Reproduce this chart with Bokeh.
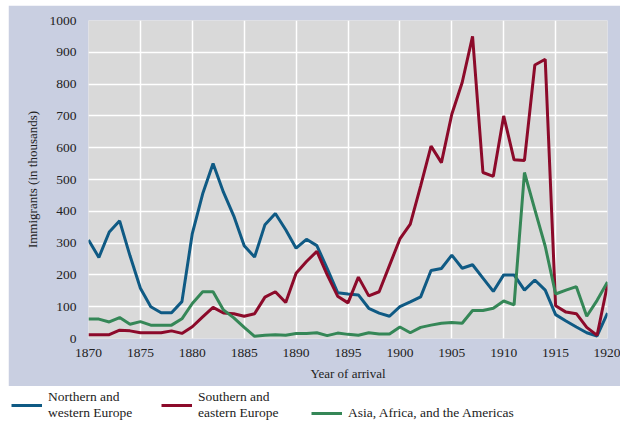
from bokeh.plotting import figure
from bokeh.models import FixedTicker, Legend, LegendItem
from bokeh.layouts import column
from bokeh.embed import file_html
from bokeh.resources import INLINE

years = list(range(1870, 1921))

nw_europe = [310, 255, 335, 370, 260, 158, 100, 81, 81, 116,
             330, 455, 550, 460, 385, 292, 256, 358, 393, 342,
             284, 312, 292, 220, 144, 140, 137, 95, 80, 70,
             100, 115, 131, 214, 220, 262, 221, 232, 190, 148,
             200, 200, 152, 184, 152, 75, 55, 36, 18, 8, 80]

se_europe = [12, 12, 12, 26, 24, 18, 18, 18, 24, 16,
             37, 68, 98, 80, 78, 70, 78, 130, 147, 113,
             205, 242, 274, 200, 133, 112, 193, 134, 147, 230,
             313, 360, 480, 605, 553, 705, 805, 950, 522, 510,
             700, 562, 560, 860, 878, 103, 83, 78, 35, 10, 170]

asia_africa_americas = [61, 61, 52, 66, 45, 53, 42, 42, 42, 62,
                        110, 147, 147, 90, 65, 35, 7, 10, 12, 10,
                        16, 16, 18, 9, 17, 13, 10, 18, 14, 14,
                        36, 18, 35, 42, 48, 50, 48, 88, 88, 95,
                        118, 106, 522, 405, 290, 140, 152, 163, 70, 120, 178]

series_labels = ["Northern and\nwestern Europe",
                 "Southern and\neastern Europe",
                 "Asia, Africa, and the Americas"]
series_colors = ["#0f5a84", "#8c0a2a", "#358757"]

x_ticks = list(range(1870, 1921, 5))
y_ticks = list(range(0, 1001, 100))

FONT = "Liberation Serif"
TXT = "#222222"

p = figure(width=612, height=381, x_range=(1870, 1920), y_range=(0, 1000),
           output_backend="svg", toolbar_location=None,
           min_border_left=80, min_border_right=13, min_border_top=15,
           min_border_bottom=48, margin=(5, 0, 0, 8), frame_align=False)
p.background_fill_color = "#d9d9d9"
p.border_fill_color = "#c9cfe1"
p.outline_line_color = None

p.xgrid.ticker = FixedTicker(ticks=x_ticks)
p.ygrid.ticker = FixedTicker(ticks=y_ticks)
p.grid.grid_line_color = "white"
p.grid.grid_line_width = 1.5

p.xaxis.ticker = FixedTicker(ticks=x_ticks)
p.yaxis.ticker = FixedTicker(ticks=y_ticks)
for ax in (p.xaxis, p.yaxis):
    ax.axis_line_color = None
    ax.major_tick_line_color = None
    ax.minor_tick_line_color = None
    ax.major_label_text_font = FONT
    ax.major_label_text_font_size = "13.5px"
    ax.major_label_text_color = TXT
    ax.axis_label_text_font = FONT
    ax.axis_label_text_font_size = "13px"
    ax.axis_label_text_font_style = "normal"
    ax.axis_label_text_color = TXT
p.yaxis.major_label_standoff = 6
p.xaxis.major_label_standoff = 4
p.xaxis.axis_label = "Year of arrival"
p.yaxis.axis_label = "Immigrants (in thousands)"
p.xaxis.axis_label_standoff = 6
p.yaxis.axis_label_standoff = 7

all_series = [nw_europe, se_europe, asia_africa_americas]
for vals, col in zip(all_series, series_colors):
    p.line(years, vals, line_width=3, line_color=col)

# legend strip below the panel
lg = figure(width=620, height=37, x_range=(0, 1), y_range=(0, 1),
            output_backend="svg", toolbar_location=None,
            x_axis_location=None, y_axis_location=None,
            min_border=0, frame_align=False)
lg.grid.visible = False
lg.outline_line_color = None
lg.background_fill_color = "white"
lg.border_fill_color = "white"

legend_x = [11, 161, 311]
for lab, col, lx, vals in zip(series_labels, series_colors, legend_x, all_series):
    # swatch renderer: the series lies outside this strip's ranges, only the legend shows
    r = lg.line(years, vals, line_width=3, line_color=col)
    leg = Legend(items=[LegendItem(label=lab, renderers=[r])],
                 location=(lx, 2), padding=0, margin=0, spacing=0,
                 border_line_color=None, background_fill_alpha=0,
                 glyph_width=31, glyph_height=14, label_standoff=6,
                 label_text_font=FONT, label_text_font_size="13.5px",
                 label_text_color=TXT, label_text_line_height=1.2)
    lg.add_layout(leg)

layout = column(p, lg, spacing=0)
open("out.html", "w").write(file_html(layout, INLINE))
